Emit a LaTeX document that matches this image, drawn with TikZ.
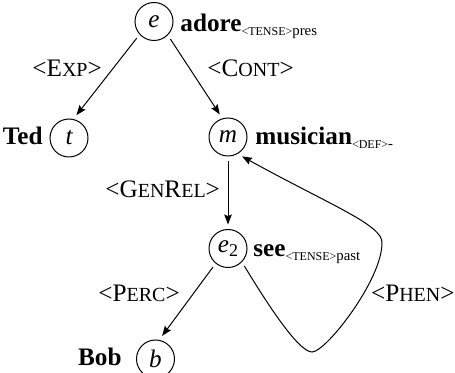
\documentclass[tikz,border=0pt]{standalone}
\usepackage{fontspec}
\setmainfont{Liberation Serif}
\usetikzlibrary{arrows.meta}
\newcommand\mainsz{\fontsize{12.6}{15}\selectfont}
\newcommand\smc[1]{{\fontsize{10}{12}\selectfont #1}}
\newcommand\subl[2]{\raisebox{-1.8pt}{{\fontsize{6}{6}\selectfont <#1>}{\fontsize{7.4}{8}\selectfont #2}}}
\begin{document}
\begin{tikzpicture}[x=0.5pt,y=-0.5pt,
  var/.style={circle,draw,line width=0.5pt,minimum size=19pt,inner sep=0pt,outer sep=2.5pt,font=\mainsz\itshape},
  lbl/.style={inner sep=0pt,font=\mainsz},
  edge/.style={line width=0.5pt,-{Stealth[length=5pt,width=3.8pt,inset=0.8pt]}}]
\useasboundingbox (0,0) rectangle (455,373);
% variable circles
\node[var] (e)  at (154,21.5) {e};
\node[var] (t)  at (69,138) {t};
\node[var] (m)  at (228,137) {m};
\node[var] (e2) at (228,248.5) {e\raisebox{-2pt}{\fontsize{9}{9}\selectfont\upshape 2}};
\node[var] (b)  at (155.5,359) {b};
% word labels
\node[lbl,anchor=base west] (lade) at (180,32) {\textbf{adore}\subl{TENSE}{pres}};
\node[lbl,anchor=base west] (ladm) at (255,145) {\textbf{musician}\subl{DEF}{-}};
\node[lbl,anchor=base west] (lads) at (253,257) {\textbf{see}\subl{TENSE}{past}};
\node[lbl,anchor=base east] (ted) at (43,145) {\textbf{Ted}};
\node[lbl,anchor=base east] (bob) at (122,366) {\textbf{Bob}};
% relation labels
\node[lbl,anchor=base west] (rexp) at (32,77) {<E\smc{XP}>};
\node[lbl,anchor=base west] (rcont) at (207,77) {<C\smc{ONT}>};
\node[lbl,anchor=base west] (rgen) at (105,198) {<G\smc{EN}R\smc{EL}>};
\node[lbl,anchor=base west] (rperc) at (98,302) {<P\smc{ERC}>};
\node[lbl,anchor=base east] (rphen) at (455,302) {<P\smc{HEN}>};
% connectors
\draw[edge] (e.-136) -- (t.72);
\draw[edge] (e.-47) -- (m.110);
\draw[edge] (m.south) -- (e2.north);
\draw[edge] (e2.-129) -- (b.74);
\coordinate (pb) at (312,352);
\coordinate (pr) at (382,243);
\draw[edge] (e2.-47) .. controls (265,300) and (298,352) .. (pb)
  .. controls (326,352) and (382,280) .. (pr)
  .. controls (383,225) and (330,205) .. (m.-54);
\end{tikzpicture}
\end{document}
